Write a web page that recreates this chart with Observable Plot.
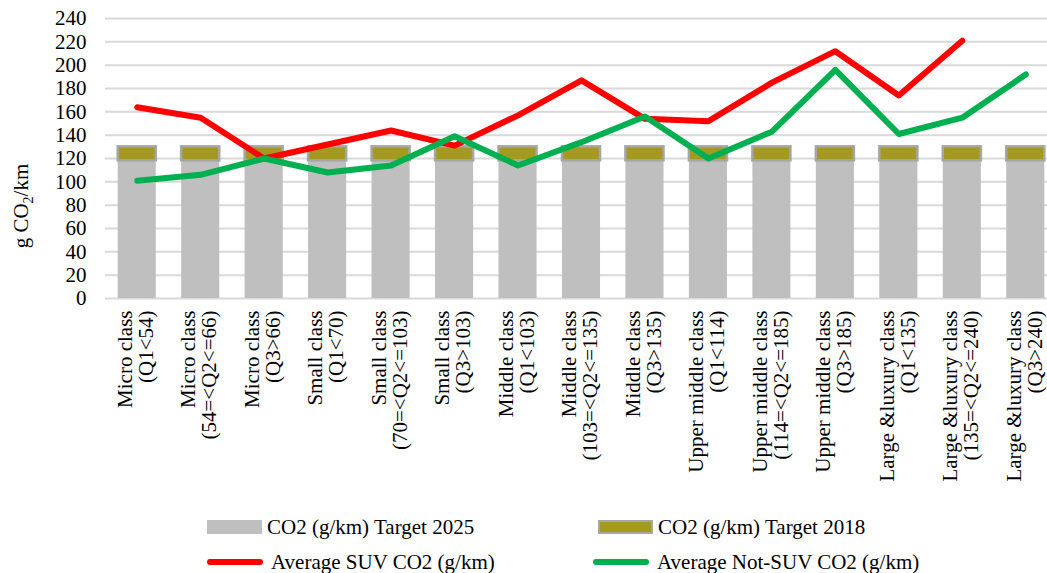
<!DOCTYPE html>
<html><head><meta charset="utf-8">
<script src="https://cdn.jsdelivr.net/npm/d3@7"></script>
<script src="https://cdn.jsdelivr.net/npm/@observablehq/plot@0.6"></script>
<style>
body{margin:0;background:#fff;font-family:"Liberation Serif","Times New Roman",serif;overflow:hidden;}
#chart svg{display:block;}
#legend{position:relative;height:68px;font-size:21px;color:#000;}
.item{position:absolute;display:flex;align-items:center;white-space:nowrap;height:30px;}
.sw{display:inline-block;margin-right:5px;box-sizing:border-box;}
</style></head><body><div id="chart"></div><div id="legend"></div>
<script>
const categories = [
  "Micro class\n(Q1<54)",
  "Micro class\n(54=<Q2<=66)",
  "Micro class\n(Q3>66)",
  "Small class\n(Q1<70)",
  "Small class\n(70=<Q2<=103)",
  "Small class\n(Q3>103)",
  "Middle class\n(Q1<103)",
  "Middle class\n(103=<Q2<=135)",
  "Middle class\n(Q3>135)",
  "Upper middle class\n(Q1<114)",
  "Upper middle class\n(114=<Q2<=185)",
  "Upper middle class\n(Q3>185)",
  "Large &luxury class\n(Q1<135)",
  "Large &luxury class\n(135=<Q2<=240)",
  "Large &luxury class\n(Q3>240)"
];
const target2025 = [118,118,118,118,118,118,118,118,118,118,118,118,118,118,118];
const target2018Extra = [12,12,12,12,12,12,12,12,12,12,12,12,12,12,12];
const suvCO2 = [164,155,120,132,144,131,157,187,154,152,185,212,174,221,null];
const notSuvCO2 = [101,106,120,108,114,139,114,134,156,120,143,196,141,155,192];
const yTicks = [0,20,40,60,80,100,120,140,160,180,200,220,240];

const bars = [];
categories.forEach((c,i)=>{
  bars.push({cat:c, series:"CO2 (g/km) Target 2025", value:target2025[i]});
  bars.push({cat:c, series:"CO2 (g/km) Target 2018", value:target2018Extra[i]});
});
const suv = categories.map((c,i)=>({cat:c, v:suvCO2[i]}));
const notSuv = categories.map((c,i)=>({cat:c, v:notSuvCO2[i]}));

const chart = Plot.plot({
  width: 1047,
  height: 505,
  marginLeft: 105,
  marginRight: -10,
  marginTop: 18,
  marginBottom: 207,
  style: {fontFamily: '"Liberation Serif","Times New Roman",serif', fontSize: "21px", color: "#000", background: "#fff"},
  x: {domain: categories, paddingInner: 0.4, paddingOuter: 0.2, round: false, label: null},
  y: {domain: [0, 240], label: null},
  color: {domain: ["CO2 (g/km) Target 2025", "CO2 (g/km) Target 2018"], range: ["#bfbfbf", "#a39a1e"]},
  marks: [
    Plot.gridY(yTicks, {stroke: "#d9d9d9", strokeOpacity: 1, strokeWidth: 2}),
    Plot.barY(bars, Plot.stackY({x: "cat", y: "value", fill: "series", order: null})),
    Plot.axisY({ticks: yTicks, tickSize: 0, tickPadding: 19, fontSize: 21, label: null}),
    Plot.axisX({tickSize: 0, tickPadding: 12, tickRotate: -90, fontSize: 21, lineHeight: 1.0, dx: -1.5, label: null}),
    Plot.lineY(suv, {x: "cat", y: "v", stroke: "#ff0000", strokeWidth: 6, strokeLinecap: "round", strokeLinejoin: "round"}),
    Plot.lineY(notSuv, {x: "cat", y: "v", stroke: "#00b050", strokeWidth: 6, strokeLinecap: "round", strokeLinejoin: "round"})
  ]
});
document.getElementById("chart").appendChild(chart);

// outline on the 2018 target segments (gray border)
d3.select(chart).selectAll("rect").each(function(){
  const f = (this.getAttribute("fill")||"").toLowerCase();
  if (f === "#a39a1e") { this.setAttribute("stroke", "#a6a6a6"); this.setAttribute("stroke-width", "2.5"); }
});

// y axis label with subscript
const svg = d3.select(chart);
const lab = svg.append("text")
  .attr("transform", "translate(28,206) rotate(-90)")
  .attr("text-anchor", "middle")
  .attr("font-size", 21)
  .attr("fill", "#000");
lab.append("tspan").text("g CO");
lab.append("tspan").attr("font-size", 14).attr("dy", 5).text("2");
lab.append("tspan").attr("dy", -5).text("/km");

// legend
const legend = d3.select("#legend");
const items = [
  {x: 207, y: 7, label: "CO2 (g/km) Target 2025", type: "bar", color: "#bfbfbf"},
  {x: 598, y: 7, label: "CO2 (g/km) Target 2018", type: "bar", color: "#a39a1e", stroke: "#a6a6a6"},
  {x: 207, y: 42, label: "Average SUV CO2 (g/km)", type: "line", color: "#ff0000"},
  {x: 593, y: 42, label: "Average Not-SUV CO2 (g/km)", type: "line", color: "#00b050"}
];
items.forEach(it => {
  const div = legend.append("div").attr("class", "item").style("left", it.x + "px").style("top", it.y + "px");
  if (it.type === "bar") {
    div.append("span").attr("class", "sw")
      .style("width", "55px").style("height", "14px")
      .style("background", it.color)
      .style("border", it.stroke ? "2px solid " + it.stroke : "none");
  } else {
    div.append("span").attr("class", "sw")
      .style("width", "56px").style("height", "6px").style("border-radius", "3px")
      .style("background", it.color).style("margin-right", "8px");
  }
  div.append("span").text(it.label);
});
</script>
</body></html>
